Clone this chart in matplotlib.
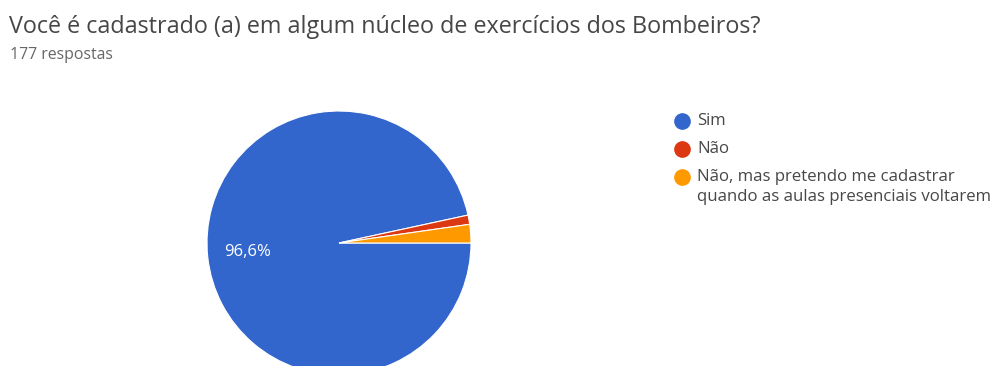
import matplotlib
matplotlib.use('Agg')
import matplotlib.pyplot as plt

# respostas do formulario
categorias = ['Sim', 'Não', 'Não, mas pretendo me cadastrar\nquando as aulas presenciais voltarem']
respostas = [171, 2, 4]
cores = ['#3366cc', '#dc3912', '#ff9900']
titulo = 'Você é cadastrado (a) em algum núcleo de exercícios dos Bombeiros?'
subtitulo = '177 respostas'

plt.rcParams['font.family'] = ['Open Sans', 'DejaVu Sans']

W, H = 1001, 366
fig = plt.figure(figsize=(W / 100, H / 100), dpi=100)

# eixo de fundo em pixels para titulo e legenda
fundo = fig.add_axes([0, 0, 1, 1])
fundo.set_xlim(0, W)
fundo.set_ylim(H, 0)
fundo.axis('off')

# grafico de pizza
cx, cy, r = 339, 243, 132
ax = fig.add_axes([(cx - r) / W, 1 - (cy + r) / H, 2 * r / W, 2 * r / H])
ax.pie(respostas, colors=cores, startangle=0, counterclock=False,
       wedgeprops=dict(edgecolor='white', linewidth=0.8))
ax.set_aspect('equal')
ax.set_xlim(-1, 1)
ax.set_ylim(-1, 1)

# rotulo da fatia maior
total = sum(respostas)
ax.text(-0.69, -0.07, f'{respostas[0] / total * 100:.1f}%'.replace('.', ','),
        color='white', fontsize=12, ha='center', va='center')

# titulo e numero de respostas
fundo.text(9, 27, titulo, fontsize=16.8, color='#474747', va='center')
fundo.text(10, 55, subtitulo, fontsize=11.4, color='#666666', va='center')

# legenda
ys = [121, 149, 177]
for nome, cor, y in zip(categorias, cores, ys):
    fundo.plot(682, y, marker='o', markersize=11, color=cor, linestyle='none')
    fundo.text(697, y - 8, nome, fontsize=12.1, color='#474747', va='top',
               linespacing=1.3)

plt.savefig('out.png', dpi=100)
